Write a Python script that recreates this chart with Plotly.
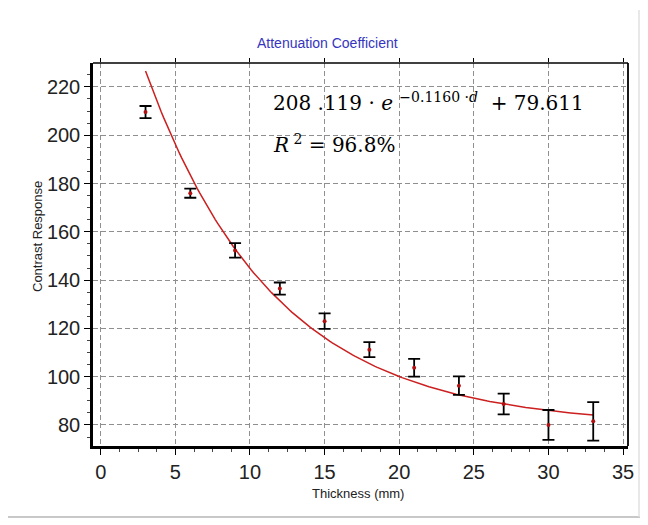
import numpy as np
import plotly.graph_objects as go

# ---- data ----
thickness = [3, 6, 9, 12, 15, 18, 21, 24, 27, 30, 33]
response = [209.6, 176.0, 152.3, 136.5, 123.0, 111.2, 103.7, 96.3, 88.7, 80.0, 81.5]
error = [2.5, 1.9, 3.0, 2.5, 3.2, 3.1, 3.7, 3.8, 4.3, 6.2, 8.0]

# fitted model shown on the chart: A*exp(-k*d)+C
fit_A = 208.119
fit_k = 0.1160
fit_C = 79.611
fit_range = [3, 33]

x_ticks = [0, 5, 10, 15, 20, 25, 30, 35]
y_ticks = [80, 100, 120, 140, 160, 180, 200, 220]

title_text = "Attenuation Coefficient"
x_title = "Thickness (mm)"
y_title = "Contrast Response"
eq_line1 = "208 .119 · <i>e</i> <sup>−0.1160 ·<i>d</i></sup>  + 79.611"
eq_line2 = "<i>R</i><sup> 2</sup> = 96.8%"

d_fit = np.linspace(fit_range[0], fit_range[1], 200)
y_fit = fit_A * np.exp(-fit_k * d_fit) + fit_C

sans = "Liberation Sans, Arial, sans-serif"

# screen-pixel layout helpers (page body has an 8px margin)
PL, PR, PT, PB = 93, 628, 63, 446


def px(sx):
    return (sx - PL) / (PR - PL)


def py(sy):
    return (PB - sy) / (PB - PT)


fig = go.Figure()
fig.add_trace(go.Scatter(
    x=d_fit, y=y_fit, mode="lines",
    line=dict(color="#cc1f1f", width=1.5), showlegend=False, hoverinfo="skip"))
fig.add_trace(go.Scatter(
    x=thickness, y=response, mode="markers",
    marker=dict(color="#b01010", size=4),
    error_y=dict(type="data", array=error, visible=True, color="black",
                 thickness=1.8, width=6),
    showlegend=False))
fig.add_trace(go.Scatter(x=[0, 35], y=[None, None], xaxis="x2", showlegend=False,
                         hoverinfo="skip"))

grid_col = "#8f8f8f"
x_range = [-0.52, 35.33]
fig.update_layout(
    width=640, height=517,
    margin=dict(l=PL - 8, r=640 - (PR - 8), t=PT - 8, b=517 - (PB - 8)),
    paper_bgcolor="white", plot_bgcolor="white",
    xaxis=dict(range=x_range, tickvals=x_ticks, ticks="outside", ticklen=6,
               tickcolor="black", tickwidth=1,
               showline=True, linecolor="black", linewidth=2.5,
               showgrid=True, gridcolor=grid_col, griddash="5px,3px", gridwidth=1,
               zeroline=False,
               tickfont=dict(family=sans, size=20, color="#222"),
               minor=dict(dtick=1.25, ticks="outside", ticklen=3, tickcolor="#444",
                          showgrid=False)),
    xaxis2=dict(range=x_range, tickvals=x_ticks, overlaying="x", side="top",
                ticks="outside", ticklen=4, tickcolor="black", showticklabels=False,
                showgrid=False, zeroline=False, showline=False),
    yaxis=dict(range=[71.3, 229.9], tickvals=y_ticks, ticks="outside", ticklen=6,
               tickcolor="black", tickwidth=1,
               showline=True, linecolor="black", linewidth=2.5,
               showgrid=True, gridcolor=grid_col, griddash="5px,3px", gridwidth=1,
               zeroline=False,
               tickfont=dict(family=sans, size=20, color="#222"),
               minor=dict(dtick=5, ticks="outside", ticklen=3, tickcolor="#444",
                          showgrid=False)),
    shapes=[
        dict(type="line", xref="paper", yref="paper", x0=0, x1=1, y0=1, y1=1,
             line=dict(color="black", width=1.5)),
        dict(type="line", xref="paper", yref="paper", x0=1, x1=1, y0=0, y1=1,
             line=dict(color="black", width=1.8)),
        dict(type="line", xref="paper", yref="paper",
             x0=px(8), x1=px(648), y0=py(517), y1=py(517),
             line=dict(color="#c8c8c8", width=2)),
        dict(type="line", xref="paper", yref="paper",
             x0=px(639), x1=px(639), y0=py(517), y1=py(10),
             line=dict(color="#e0e0e0", width=1.5)),
    ],
    annotations=[
        dict(text=title_text, xref="paper", yref="paper", x=px(327), y=py(43),
             xanchor="center", yanchor="middle", showarrow=False,
             font=dict(family=sans, size=14, color="#3535c0")),
        dict(text=y_title, xref="paper", yref="paper", x=px(37), y=py(237),
             xanchor="center", yanchor="middle", showarrow=False,
             textangle=-90, font=dict(family=sans, size=13, color="#222")),
        dict(text=x_title, xref="paper", yref="paper", x=px(358), y=py(493),
             xanchor="center", yanchor="middle", showarrow=False,
             font=dict(family=sans, size=13, color="#222")),
        dict(text=eq_line1, xref="paper", yref="paper", x=px(271), y=py(102),
             xanchor="left", yanchor="middle", showarrow=False,
             font=dict(family="DejaVu Serif", size=20, color="black")),
        dict(text=eq_line2, xref="paper", yref="paper", x=px(271), y=py(144),
             xanchor="left", yanchor="middle", showarrow=False,
             font=dict(family="DejaVu Serif", size=20, color="black")),
    ],
)

fig.write_html("out.html")
